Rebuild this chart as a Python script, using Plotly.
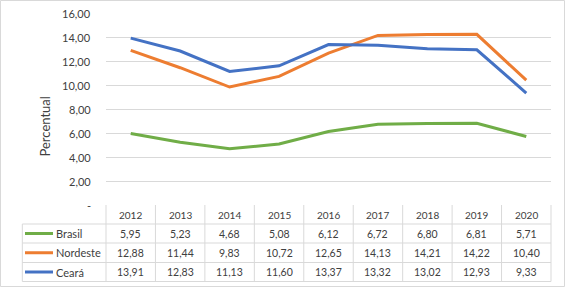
import plotly.graph_objects as go

years = ['2012', '2013', '2014', '2015', '2016', '2017', '2018', '2019', '2020']
brasil = [5.95, 5.23, 4.68, 5.08, 6.12, 6.72, 6.80, 6.81, 5.71]
nordeste = [12.88, 11.44, 9.83, 10.72, 12.65, 14.13, 14.21, 14.22, 10.40]
ceara = [13.91, 12.83, 11.13, 11.60, 13.37, 13.32, 13.02, 12.93, 9.33]
series_names = ['Brasil', 'Nordeste', 'Ceará']
series_values = [brasil, nordeste, ceara]
series_colors = ['#70AD47', '#ED7D31', '#4472C4']
y_ticks = [0, 2, 4, 6, 8, 10, 12, 14, 16]
y_ticktext = ['-'] + [f"{v:.2f}".replace('.', ',') for v in y_ticks[1:]]

W, H = 566, 288
ML, MR, MT, MB = 106, 15, 13, 83
PW = W - ML - MR
PH = H - MT - MB
FONT = 'Lato'
TXT = '#404040'
GRID = '#D9D9D9'


def px(x):
    return (x - ML) / PW


def py(y):
    return 1 - (y - MT) / PH


fig = go.Figure()
for name, vals, col in zip(series_names, series_values, series_colors):
    fig.add_trace(go.Scatter(x=list(range(len(years))), y=vals, mode='lines', name=name,
                             line=dict(color=col, width=3), showlegend=False,
                             hoverinfo='skip'))

shapes = []
annotations = []
n = len(years)
row_edges = [205, 224, 243, 262.5, 281.5]
leg_left = px(22.3)

for y in row_edges[1:]:
    shapes.append(dict(type='line', xref='paper', yref='paper', x0=leg_left, x1=1,
                       y0=py(y), y1=py(y), line=dict(color=GRID, width=1)))
for k in range(n + 1):
    shapes.append(dict(type='line', xref='paper', yref='paper', x0=k / n, x1=k / n,
                       y0=py(row_edges[0]), y1=py(row_edges[-1]), line=dict(color=GRID, width=1)))
shapes.append(dict(type='line', xref='paper', yref='paper', x0=leg_left, x1=leg_left,
                   y0=py(row_edges[1]), y1=py(row_edges[-1]), line=dict(color=GRID, width=1)))
shapes.append(dict(type='rect', xref='paper', yref='paper', x0=px(0.5), x1=px(564.5),
                   y0=py(286.5), y1=py(0.5), line=dict(color=GRID, width=1)))

for v, t in zip(y_ticks, y_ticktext):
    annotations.append(dict(x=px(92.5), y=v, xref='paper', yref='y', text=t,
                            showarrow=False, xanchor='right', yanchor='middle',
                            font=dict(family=FONT, size=11, color=TXT)))

hc = (row_edges[0] + row_edges[1]) / 2
for i, yr in enumerate(years):
    annotations.append(dict(x=(i + 0.5) / n, y=py(hc), xref='paper', yref='paper', text=yr,
                            showarrow=False, xanchor='center', yanchor='middle',
                            font=dict(family=FONT, size=10, color=TXT)))
for r, (name, vals, col) in enumerate(zip(series_names, series_values, series_colors)):
    yc = (row_edges[r + 1] + row_edges[r + 2]) / 2
    shapes.append(dict(type='line', xref='paper', yref='paper', x0=px(25), x1=px(53),
                       y0=py(yc), y1=py(yc), line=dict(color=col, width=3)))
    annotations.append(dict(x=px(54), y=py(yc), xref='paper', yref='paper', text=name,
                            showarrow=False, xanchor='left', yanchor='middle',
                            font=dict(family=FONT, size=11, color=TXT)))
    for i, v in enumerate(vals):
        annotations.append(dict(x=(i + 0.5) / n, y=py(yc), xref='paper', yref='paper',
                                text=f"{v:.2f}".replace('.', ','), showarrow=False,
                                xanchor='center', yanchor='middle',
                                font=dict(family=FONT, size=10.5, color=TXT)))

annotations.append(dict(x=px(44.5), y=py(127), xref='paper', yref='paper', text='Percentual',
                        showarrow=False, textangle=-90, xanchor='center', yanchor='middle',
                        font=dict(family=FONT, size=13, color=TXT)))

fig.update_layout(
    width=W, height=H,
    margin=dict(l=ML, r=MR, t=MT, b=MB, pad=0),
    paper_bgcolor='white', plot_bgcolor='white',
    shapes=shapes, annotations=annotations,
    hovermode=False,
    xaxis=dict(range=[-0.5, n - 0.5], showticklabels=False, showgrid=False, zeroline=False,
               showline=False, ticks=''),
    yaxis=dict(range=[0, 16], tickvals=y_ticks, showticklabels=False, showgrid=True,
               gridcolor=GRID, gridwidth=1, zeroline=False, showline=False, ticks=''),
)

fig.write_html('out.html', config={'displayModeBar': False},
               post_script="document.body.style.margin='0px';document.body.style.overflow='hidden';")
